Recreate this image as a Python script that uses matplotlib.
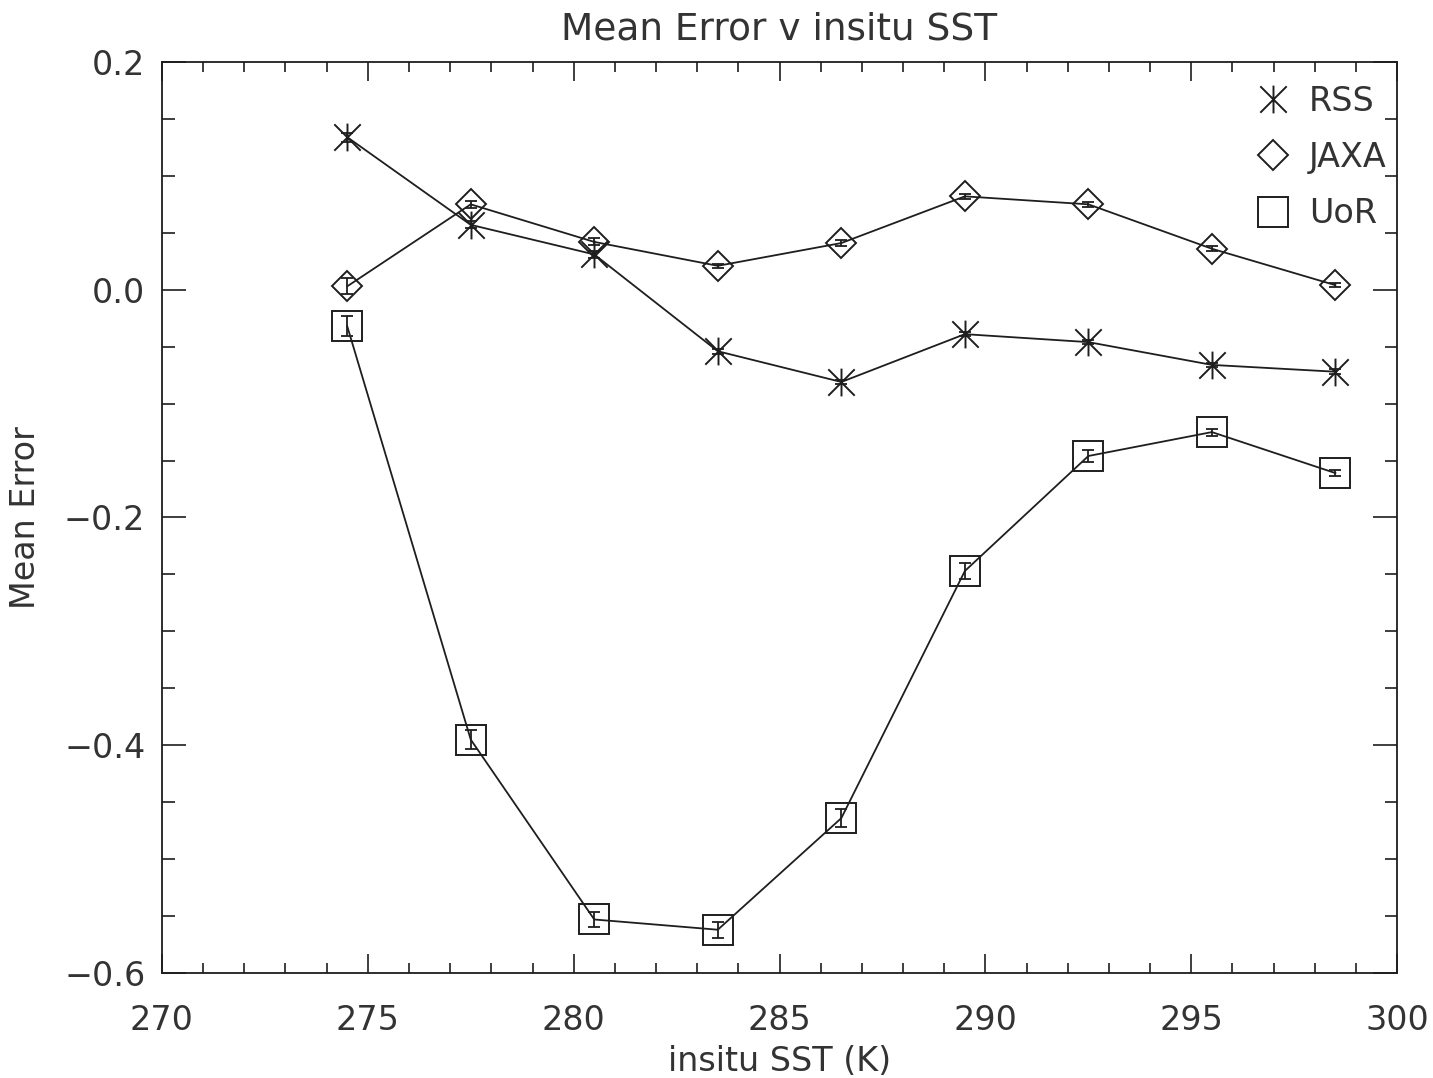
import matplotlib
matplotlib.use('Agg')
import matplotlib.pyplot as plt
from matplotlib.path import Path
from matplotlib.lines import Line2D
from matplotlib.ticker import MultipleLocator

sst = [274.5, 277.5, 280.5, 283.5, 286.5, 289.5, 292.5, 295.5, 298.5]

rss = [0.134, 0.057, 0.031, -0.054, -0.081, -0.039, -0.046, -0.066, -0.072]
rss_err = [0.004, 0.003, 0.003, 0.002, 0.002, 0.002, 0.002, 0.002, 0.002]

jaxa = [0.003, 0.075, 0.042, 0.021, 0.041, 0.082, 0.075, 0.036, 0.004]
jaxa_err = [0.007, 0.003, 0.003, 0.002, 0.003, 0.002, 0.002, 0.002, 0.002]

uor = [-0.032, -0.395, -0.553, -0.562, -0.464, -0.247, -0.146, -0.125, -0.161]
uor_err = [0.009, 0.008, 0.007, 0.007, 0.008, 0.007, 0.005, 0.003, 0.003]

ink = '#1e1e1e'
txt = '#333333'
plt.rcParams['font.family'] = ['DejaVu Sans']
plt.rcParams['font.size'] = 24

# IDL style asterisk: vertical bar plus an X
star = Path([(0, -1), (0, 1), (-0.95, -0.95), (0.95, 0.95), (-0.95, 0.95), (0.95, -0.95)],
            [Path.MOVETO, Path.LINETO, Path.MOVETO, Path.LINETO, Path.MOVETO, Path.LINETO])

fig = plt.figure(figsize=(14.33, 10.78), dpi=100)
ax = fig.add_axes([0.113, 0.0974, 0.862, 0.8451])

series = [
    (rss, rss_err, star, 20, 'RSS'),
    (jaxa, jaxa_err, 'D', 15, 'JAXA'),
    (uor, uor_err, 's', 21, 'UoR'),
]
handles = []
for vals, errs, mk, ms, name in series:
    ax.plot(sst, vals, color=ink, lw=1.3, marker=mk, ms=ms, mfc='none',
            mec=ink, mew=1.4)
    ax.errorbar(sst, vals, yerr=errs, fmt='none', ecolor=ink, elinewidth=1.3,
                capsize=4, capthick=1.3)
    handles.append(Line2D([], [], ls='none', marker=mk, ms=ms, mfc='none',
                          mec=ink, mew=1.4, label=name))

ax.set_xlim(270, 300)
ax.set_ylim(-0.6, 0.2)
ax.xaxis.set_major_locator(MultipleLocator(5))
ax.xaxis.set_minor_locator(MultipleLocator(1))
ax.yaxis.set_major_locator(MultipleLocator(0.2))
ax.yaxis.set_minor_locator(MultipleLocator(0.05))
ax.yaxis.set_major_formatter(
    lambda v, p: ('%.1f' % v).replace('-', '\u2212') if abs(v) > 1e-9 else '0.0')

ax.tick_params(which='both', direction='in', top=True, right=True, colors=ink,
               labelcolor=txt, width=1.2)
ax.tick_params(axis='x', which='major', length=14, pad=22)
ax.tick_params(axis='x', which='minor', length=7)
ax.tick_params(axis='y', which='major', length=17, pad=12)
ax.tick_params(axis='y', which='minor', length=9)
for s in ax.spines.values():
    s.set_color(ink)
    s.set_linewidth(1.3)

ax.set_title('Mean Error v insitu SST', color=txt, pad=16, fontsize=27)
ax.set_xlabel('insitu SST (K)', color=txt, labelpad=6)
ax.set_ylabel('Mean Error', color=txt)
ax.yaxis.set_label_coords(-0.097, 0.5)

leg = ax.legend(handles=handles, loc='upper right', bbox_to_anchor=(1.016, 1.008),
                frameon=False, handlelength=1.0, handletextpad=0.6,
                labelspacing=0.7, labelcolor=txt)

fig.savefig('out.png', dpi=100)
